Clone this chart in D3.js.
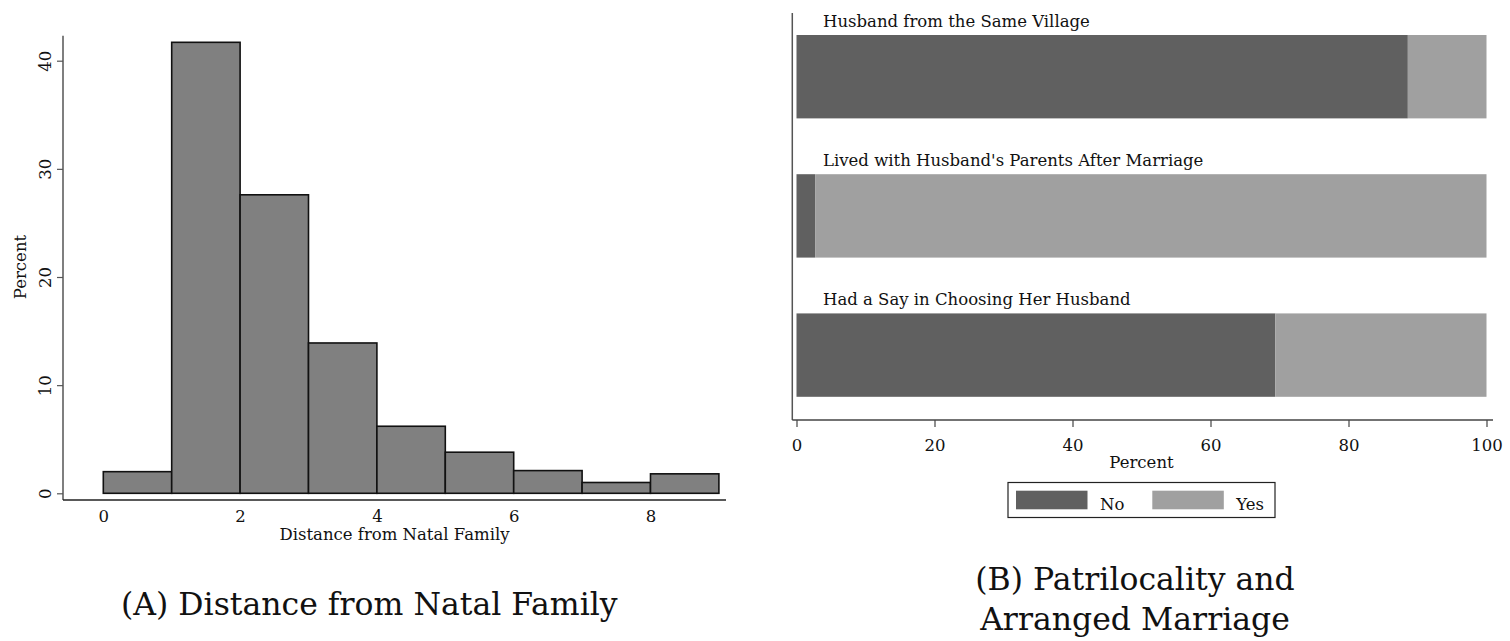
<!DOCTYPE html>
<html>
<head>
<meta charset="utf-8">
<script src="https://cdn.jsdelivr.net/npm/d3@7/dist/d3.min.js"></script>
<style>
  html, body { margin: 0; padding: 0; background: #fff; }
  svg { display: block; }
  text { font-family: "DejaVu Serif", serif; fill: #111; }
</style>
</head>
<body>
<svg id="chart" width="1510" height="641"></svg>
<script>
// ---------- data ----------
const binStart = [0, 1, 2, 3, 4, 5, 6, 7, 8];
const binPercent = [2.0, 41.7, 27.6, 13.9, 6.2, 3.8, 2.1, 1.0, 1.8];
const histXTicks = [0, 2, 4, 6, 8];
const histYTicks = [0, 10, 20, 30, 40];

const categories = [
  "Husband from the Same Village",
  "Lived with Husband's Parents After Marriage",
  "Had a Say in Choosing Her Husband"
];
const noPct = [88.6, 2.7, 69.4];
const yesPct = [11.4, 97.3, 30.6];
const barXTicks = [0, 20, 40, 60, 80, 100];
const legendLabels = ["No", "Yes"];

const captionA = "(A) Distance from Natal Family";
const captionB = ["(B) Patrilocality and", "Arranged Marriage"];

// ---------- drawing ----------
const svg = d3.select("#chart");
const colNo = "#606060", colYes = "#a0a0a0";
const fs = "16.5px";

// ===== Panel A: histogram =====
const xH = d3.scaleLinear().domain([0, 9]).range([103.3, 718.9]);
const yH = d3.scaleLinear().domain([0, 40]).range([493.3, 60.7]);
const gA = svg.append("g");

gA.selectAll("rect.bin").data(binStart).join("rect")
  .attr("class", "bin")
  .attr("x", d => xH(d))
  .attr("width", (d) => xH(d + 1) - xH(d))
  .attr("y", (d, i) => yH(binPercent[i]))
  .attr("height", (d, i) => yH(0) - yH(binPercent[i]))
  .attr("fill", "#808080")
  .attr("stroke", "#111")
  .attr("stroke-width", 1.6);

// y axis
const yAxisA = d3.axisLeft(yH).tickValues(histYTicks).tickSize(6).tickPadding(0).tickFormat(d3.format("d"));
const gyA = gA.append("g").attr("transform", "translate(63,0)").call(yAxisA);
gyA.select(".domain").remove();
gyA.selectAll(".tick line").attr("stroke", "#555").attr("stroke-width", 1.2);
gyA.selectAll(".tick text")
  .attr("x", 0).attr("y", 0)
  .attr("transform", "translate(-12,0) rotate(-90)")
  .attr("text-anchor", "middle")
  .attr("dy", "0")
  .style("font-family", "DejaVu Serif")
  .style("font-size", fs)
  .attr("fill", "#111");
gA.append("line").attr("x1", 63).attr("x2", 63).attr("y1", yH(42.3)).attr("y2", 500)
  .attr("stroke", "#555").attr("stroke-width", 1.5);
gA.append("text").attr("transform", "translate(26," + 267 + ") rotate(-90)")
  .attr("text-anchor", "middle").style("font-size", fs).text("Percent");

// x axis
const xAxisA = d3.axisBottom(xH).tickValues(histXTicks).tickSize(0).tickPadding(0).tickFormat(d3.format("d"));
const gxA = gA.append("g").attr("transform", "translate(0,500)").call(xAxisA);
gxA.select(".domain").remove();
gxA.selectAll(".tick text").attr("y", 22).attr("dy", 0)
  .style("font-family", "DejaVu Serif").style("font-size", fs).attr("fill", "#111");
gA.append("line").attr("x1", 63).attr("x2", 726).attr("y1", 500).attr("y2", 500)
  .attr("stroke", "#222").attr("stroke-width", 1.5);
gA.append("text").attr("x", (63 + 726) / 2).attr("y", 540)
  .attr("text-anchor", "middle").style("font-size", fs).text("Distance from Natal Family");

// ===== Panel B: stacked bars =====
const xB = d3.scaleLinear().domain([0, 100]).range([796.5, 1486.5]);
const yB = d3.scaleBand().domain(categories).range([35, 396.8]).paddingInner(0.401).paddingOuter(0);
const gB = svg.append("g");

const stacks = categories.map((c, i) => ({ c, no: noPct[i], yes: yesPct[i] }));
gB.selectAll("rect.no").data(stacks).join("rect")
  .attr("class", "no")
  .attr("x", xB(0)).attr("y", d => yB(d.c))
  .attr("width", d => xB(d.no) - xB(0)).attr("height", yB.bandwidth())
  .attr("fill", colNo);
gB.selectAll("rect.yes").data(stacks).join("rect")
  .attr("class", "yes")
  .attr("x", d => xB(d.no)).attr("y", d => yB(d.c))
  .attr("width", d => xB(d.no + d.yes) - xB(d.no)).attr("height", yB.bandwidth())
  .attr("fill", colYes);
gB.selectAll("text.cat").data(categories).join("text")
  .attr("class", "cat")
  .attr("x", 823).attr("y", d => yB(d) - 8.5)
  .style("font-size", fs).text(d => d);

// axes
gB.append("line").attr("x1", 792.3).attr("x2", 792.3).attr("y1", 13).attr("y2", 420)
  .attr("stroke", "#555").attr("stroke-width", 1.5);
const xAxisB = d3.axisBottom(xB).tickValues(barXTicks).tickSize(7).tickPadding(0).tickFormat(d3.format("d"));
const gxB = gB.append("g").attr("transform", "translate(0,420)").call(xAxisB);
gxB.select(".domain").remove();
gxB.selectAll(".tick line").attr("stroke", "#444").attr("stroke-width", 1.2);
gxB.selectAll(".tick text").attr("y", 31).attr("dy", 0)
  .style("font-family", "DejaVu Serif").style("font-size", fs).attr("fill", "#111");
gB.append("line").attr("x1", 792.3).attr("x2", 1493).attr("y1", 420).attr("y2", 420)
  .attr("stroke", "#444").attr("stroke-width", 1.5);
gB.append("text").attr("x", (xB(0) + xB(100)) / 2).attr("y", 468)
  .attr("text-anchor", "middle").style("font-size", fs).text("Percent");

// legend
const lg = gB.append("g");
lg.append("rect").attr("x", 1008).attr("y", 482.5).attr("width", 267).attr("height", 35)
  .attr("fill", "#fff").attr("stroke", "#222").attr("stroke-width", 1.2);
const legendX = [1016, 1152.3];
const legendCols = [colNo, colYes];
lg.selectAll("rect.sw").data(legendLabels).join("rect")
  .attr("class", "sw")
  .attr("x", (d, i) => legendX[i]).attr("y", 490.7)
  .attr("width", 71.5).attr("height", 18.6)
  .attr("fill", (d, i) => legendCols[i]);
lg.selectAll("text.lt").data(legendLabels).join("text")
  .attr("class", "lt")
  .attr("x", (d, i) => legendX[i] + 84).attr("y", 509.5)
  .style("font-size", fs).text(d => d);

// captions
svg.append("text").attr("x", 121).attr("y", 615)
  .style("font-size", "31.5px").style("font-family", "DejaVu Serif").text(captionA);
svg.append("g").selectAll("text").data(captionB).join("text")
  .attr("x", 1135).attr("y", (d, i) => 590 + i * 40)
  .attr("text-anchor", "middle")
  .style("font-size", "31.5px").style("font-family", "DejaVu Serif").text(d => d);
</script>
</body>
</html>
